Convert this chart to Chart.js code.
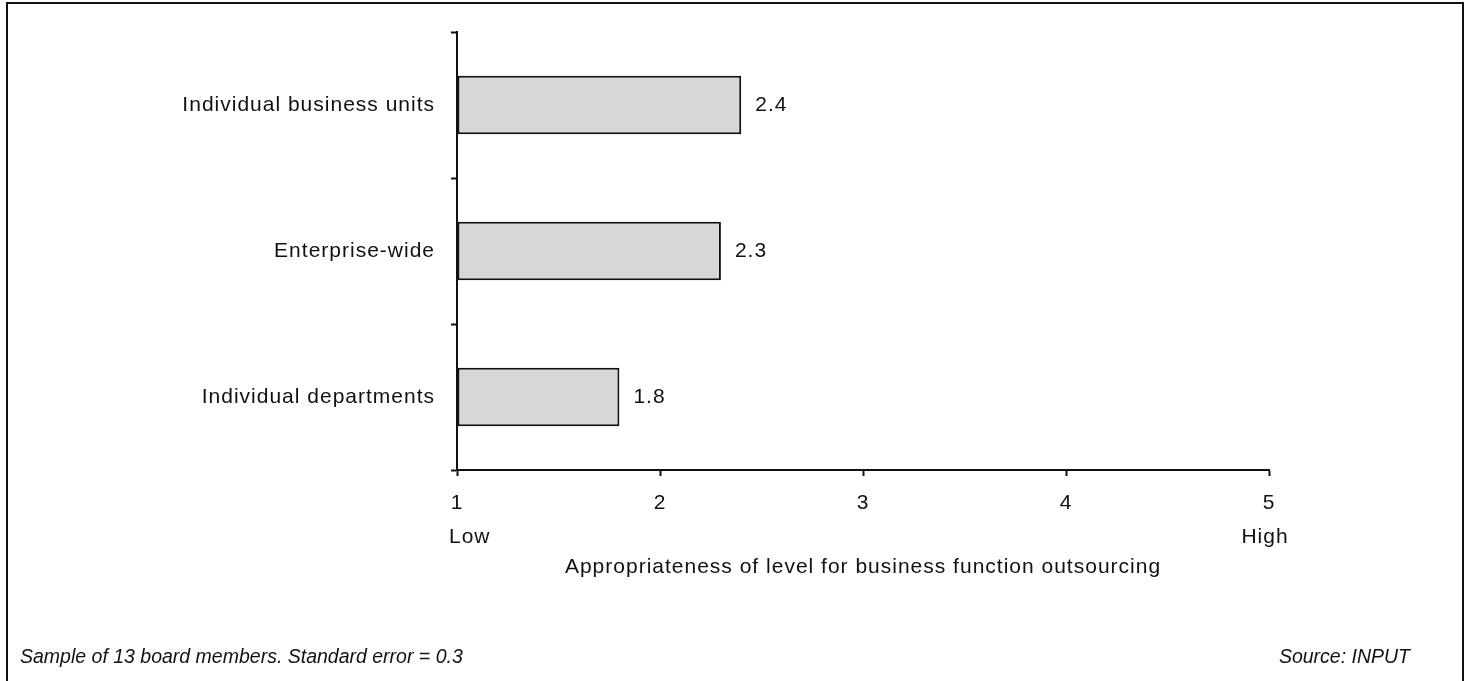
<!DOCTYPE html>
<html>
<head>
<meta charset="utf-8">
<script src="https://cdn.jsdelivr.net/npm/chart.js@4"></script>
<style>
  html, body { margin: 0; padding: 0; background: #fff; }
  canvas { display: block; }
</style>
</head>
<body>
<canvas id="grafikoa" width="1470" height="681"></canvas>
<script>
const categories = ['Individual business units', 'Enterprise-wide', 'Individual departments'];
const scores = [2.4, 2.3, 1.8];
const scaleTicks = [1, 2, 3, 4, 5];
const scaleEnds = { 1: 'Low', 5: 'High' };
const axisTitle = 'Appropriateness of level for business function outsourcing';
const noteLeft = 'Sample of 13 board members. Standard error = 0.3';
const noteRight = 'Source: INPUT';

const FONT = "'Liberation Sans', Arial, sans-serif";
const SIZE = 21;
Chart.defaults.font.family = FONT;
Chart.defaults.color = '#111';

// frame, value labels, Low/High and the footnotes
const extras = {
  id: 'extras',
  beforeDraw(chart) {
    const ctx = chart.ctx;
    // slightly wide lettering, like the original typesetting
    ctx.letterSpacing = '1px';
    ctx.save();
    ctx.fillStyle = '#fff';
    ctx.fillRect(0, 0, chart.width, chart.height);
    ctx.strokeStyle = '#111';
    ctx.lineWidth = 2;
    ctx.strokeRect(7, 3, 1456, 700);
    ctx.restore();
  },
  afterDatasetsDraw(chart) {
    const ctx = chart.ctx;
    const meta = chart.getDatasetMeta(0);
    ctx.save();
    ctx.font = SIZE + 'px ' + FONT;
    ctx.fillStyle = '#111';
    ctx.textBaseline = 'middle';
    ctx.textAlign = 'left';
    meta.data.forEach((bar, i) => {
      ctx.fillText(scores[i].toFixed(1), bar.x + 14, bar.y);
    });
    ctx.restore();
  },
  afterDraw(chart) {
    const ctx = chart.ctx;
    const x = chart.scales.x;
    ctx.save();
    ctx.fillStyle = '#111';
    ctx.textBaseline = 'middle';
    ctx.font = SIZE + 'px ' + FONT;
    Object.keys(scaleEnds).forEach(v => {
      const px = x.getPixelForValue(Number(v));
      ctx.textAlign = Number(v) === 1 ? 'left' : 'center';
      ctx.fillText(scaleEnds[v], Number(v) === 1 ? px - 8 : px - 4, 537);
    });
    ctx.letterSpacing = '0px';
    ctx.font = 'italic 19.5px ' + FONT;
    ctx.textAlign = 'left';
    ctx.fillText(noteLeft, 20, 658);
    ctx.textAlign = 'right';
    ctx.fillText(noteRight, 1410, 658);
    ctx.restore();
  }
};

const data = {
  labels: categories,
  datasets: [
    {
      data: scores,
      base: 1,
      backgroundColor: '#d7d7d7',
      borderColor: '#111',
      borderWidth: 2,
      borderSkipped: false,
      categoryPercentage: 1,
      barPercentage: 0.4,
    }
  ]
};

const config = {
  type: 'bar',
  data: data,
  options: {
    indexAxis: 'y',
    responsive: false,
    animation: false,
    layout: { padding: { top: 32, right: 201, left: 0, bottom: 0 } },
    plugins: {
      legend: { display: false },
      tooltip: { enabled: false }
    },
    scales: {
      x: {
        type: 'linear',
        min: scaleTicks[0],
        max: scaleTicks[scaleTicks.length - 1],
        afterBuildTicks: s => { s.ticks = scaleTicks.map(v => ({ value: v })); },
        afterFit: s => { s.height = 211; },
        grid: { drawOnChartArea: false, tickLength: 6, tickWidth: 2, tickColor: '#111' },
        border: { color: '#111', width: 2 },
        ticks: { font: { size: SIZE }, color: '#111', padding: 15 },
        title: {
          display: true,
          text: axisTitle,
          font: { size: SIZE },
          color: '#111',
          padding: { top: 0, bottom: 101 }
        }
      },
      y: {
        afterFit: s => { s.width = 457; },
        grid: { drawOnChartArea: false, offset: true, tickLength: 6, tickWidth: 2, tickColor: '#111' },
        border: { color: '#111', width: 2 },
        ticks: { font: { size: SIZE }, color: '#111', padding: 16 }
      }
    }
  },
  plugins: [extras]
};

const ctx = document.getElementById('grafikoa').getContext('2d');
new Chart(ctx, config);
</script>
</body>
</html>
